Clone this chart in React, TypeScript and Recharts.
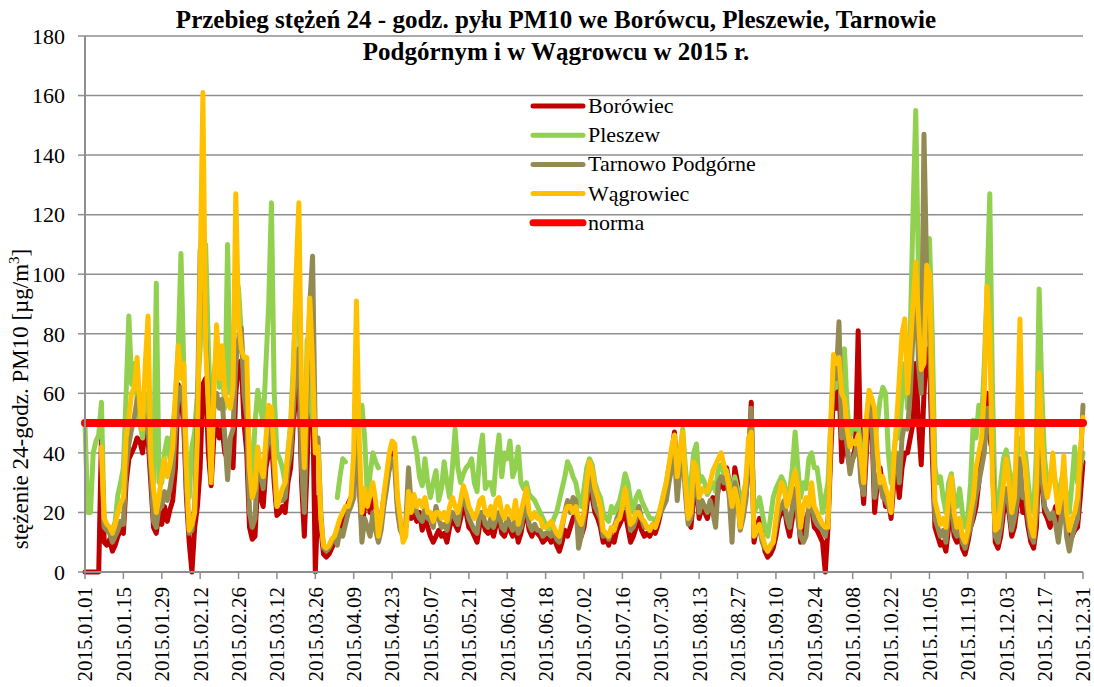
import { LineChart, Line, XAxis, YAxis, CartesianGrid } from "recharts";

const FONT = '"Liberation Serif", "Times New Roman", Times, serif';
const GRID = "#8E8E8E";

// daily 24h PM10 concentrations, 2015.01.01 - 2015.12.31
const borowiec: (number | null)[] = [
  0, 0, 0, 0, 0, 0, 45, 10, 9, 11, 7, 9, 12, 14,
  13, 30, 38, 40, 42, 45, 44, 40, 48, 45, 30, 15, 13, 20,
  16, 22, 17, 21, 24, 35, 63, 58, 50, 25, 10, 0, 15, 22,
  35, 63, 65, 40, 29, 45, 49, 45, 48, 40, 38, 45, 35, 60,
  70, 71, 50, 40, 15, 11, 12, 30, 25, 22, 35, 40, 45, 30,
  19, 20, 22, 20, 30, 35, 50, 60, 65, 30, 12, 35, 70, 60,
  0, 25, 15, 6, 5, 6, 8, 10, 12, 15, 18, 20, 23, 25,
  25, 60, 30, 15, 22, 25, 20, 26, 22, 15, 18, 25, 30, 35,
  40, 38, 22, 15, 12, 15, 22, 18, 20, 17, 20, 14, 18, 15,
  12, 10, 12, 14, 12, 13, 10, 15, 18, 16, 14, 18, 22, 20,
  15, 14, 12, 10, 16, 18, 14, 13, 15, 12, 16, 18, 13, 12,
  15, 14, 12, 16, 10, 13, 18, 20, 14, 12, 15, 13, 12, 10,
  11, 12, 10, 12, 9, 7, 10, 14, 12, 15, 18, 20, 15, 12,
  15, 22, 30, 25, 20, 18, 15, 10, 11, 9, 12, 10, 14, 16,
  18, 20, 15, 10, 12, 15, 18, 14, 12, 13, 12, 14, 13, 16,
  20, 25, 28, 35, 40, 47, 30, 38, 45, 30, 18, 15, 25, 30,
  18, 22, 20, 18, 22, 25, 22, 28, 30, 28, 35, 30, 20, 35,
  30, 15, 20, 25, 35, 57, 10, 15, 18, 12, 7, 5, 6, 8,
  12, 18, 20, 22, 16, 12, 18, 25, 20, 10, 14, 18, 20, 22,
  15, 14, 12, 10, 0, 15, 40, 60, 55, 65, 37, 45, 40, 35,
  38, 42, 81, 35, 23, 40, 55, 50, 20, 30, 35, 28, 22, 25,
  18, 30, 35, 25, 35, 40, 40, 45, 50, 70, 50, 36, 60, 75,
  72, 40, 15, 12, 9, 10, 7, 15, 20, 12, 10, 15, 8, 6,
  10, 15, 18, 22, 30, 40, 45, 60, 45, 40, 10, 8, 12, 20,
  25, 20, 12, 15, 22, 35, 20, 22, 15, 10, 8, 15, 40, 30,
  20, 18, 15, 18, 22, 16, 20, 25, 15, 10, 12, 14, 15, 25, 37,
];

const pleszew: (number | null)[] = [
  50, 20, 20, 40, 44, 46, 57, 16, 15, 14, 14, 17, 26, 30,
  35, 60, 86, 63, 70, 58, 50, 45, 55, 60, 40, 30, 97, 30,
  30, 40, 45, 38, 48, 58, 75, 107, 70, 35, 25, 42, 47, 60,
  75, 100, 110, 75, 50, 65, 75, 62, 70, 55, 110, 60, 70, 100,
  95, 80, 65, 58, 40, 30, 50, 61, 55, 50, 70, 90, 124, 60,
  40, 38, 35, 30, 40, 50, 70, 95, 90, 50, 25, 78, 60, 50,
  null, null, null, null, null, null, null, null, 25, 32, 38, 37, null, null,
  null, null, null, 56, 45, 25, 33, 40, 37, 35, null, null, null, null,
  null, null, null, null, null, null, null, null, 45, 40, 32, 29, 38, 30,
  25, 30, 34, 24, 28, 37, 30, 25, 35, 48, 35, 30, 33, 35,
  36, 38, 30, 27, 40, 46, 28, 30, 30, 26, 38, 46, 32, 40,
  38, 44, 32, 35, 42, 30, 28, 30, 26, 25, 24, 22, 20, 18,
  16, 14, 15, 18, 20, 24, 28, 32, 37, 35, 32, 30, 25, 22,
  28, 35, 38, 36, 30, 27, 25, 20, 18, 17, 22, 20, 22, 24,
  28, 33, 30, 24, 20, 25, 27, 24, 22, 20, 18, 18, 17, 19,
  22, 26, 30, 35, 40, 42, 32, 40, 48, 35, 25, 30, 40, 43,
  30, 32, 30, 26, 28, 30, 27, 35, 36, 33, 34, 30, 25, 32,
  28, 20, 26, 30, 40, 50, 20, 22, 25, 20, 15, 12, 18, 25,
  28, 30, 32, 30, 25, 27, 35, 47, 35, 25, 30, 28, 38, 40,
  35, 35, 28, 20, 25, 30, 50, 65, 62, 70, 55, 75, 55, 45,
  50, 48, 50, 40, 38, 50, 60, 58, 45, 50, 58, 62, 60, 40,
  30, 40, 48, 45, 60, 70, 55, 80, 120, 155, 100, 70, 90, 100,
  112, 80, 35, 30, 32, 25, 20, 30, 33, 25, 22, 28, 20, 15,
  18, 30, 51, 45, 56, 50, 70, 95, 127, 60, 20, 22, 30, 38,
  41, 35, 28, 32, 38, 45, 40, 40, 30, 22, 20, 40, 95, 60,
  38, 30, 32, 35, 30, 25, 30, 35, 25, 20, 30, 42, 30, 35, 40,
];

const tarnowo: (number | null)[] = [
  null, null, null, null, null, null, 40, 15, 14, 13, 10, 12, 14, 17,
  16, 35, 43, 48, 52, 58, 60, 55, 50, 48, 35, 17, 15, 22,
  22, 27, 24, 28, 34, 48, 60, 62, 55, 28, 13, 14, 22, 55,
  108, 113, 80, 60, 38, 55, 60, 55, 58, 45, 31, 45, 48, 70,
  78, 82, 60, 52, 20, 15, 18, 38, 33, 28, 40, 45, 50, 35,
  22, 25, 24, 25, 35, 40, 55, 70, 75, 35, 20, 60, 90, 106,
  45, 45, 20, 8, 7, 8, 10, 12, 9, 14, 12, 16, 20, 22,
  25, 70, 30, 10, 18, 15, 12, 20, 14, 10, 14, 22, 28, 35,
  38, 35, 20, 14, 12, 16, 35, 22, 24, 20, 18, 17, 22, 18,
  18, 15, 22, 18, 15, 16, 14, 18, 20, 18, 16, 22, 25, 22,
  18, 16, 14, 13, 20, 20, 16, 15, 18, 15, 18, 20, 15, 14,
  18, 16, 14, 18, 13, 15, 20, 22, 16, 14, 16, 14, 14, 12,
  13, 13, 12, 14, 11, 10, 15, 20, 24, 20, 25, 24, 8, 12,
  18, 25, 32, 28, 22, 20, 18, 12, 13, 11, 14, 15, 18, 20,
  22, 24, 20, 14, 15, 18, 22, 18, 15, 15, 14, 16, 15, 18,
  20, 22, 24, 30, 35, 40, 24, 35, 40, 26, 16, 18, 28, 32,
  20, 24, 22, 20, 24, 20, 15, 30, 32, 30, 32, 25, 10, 30,
  25, 14, 18, 24, 38, 55, 12, 13, 15, 10, 8, 7, 8, 10,
  15, 20, 22, 24, 18, 15, 22, 28, 18, 12, 10, 12, 22, 24,
  18, 16, 15, 14, 12, 18, 45, 70, 65, 84, 45, 50, 42, 33,
  38, 40, 45, 30, 26, 45, 58, 52, 25, 32, 30, 25, 24, 22,
  20, 35, 40, 30, 45, 50, 48, 60, 80, 103, 70, 60, 147, 100,
  80, 50, 18, 15, 12, 14, 10, 20, 25, 14, 12, 16, 10, 8,
  12, 15, 20, 26, 30, 35, 40, 55, 50, 38, 12, 10, 15, 24,
  28, 22, 14, 18, 24, 38, 25, 26, 18, 12, 10, 20, 45, 32,
  22, 20, 18, 20, 16, 10, 18, 28, 12, 7, 12, 15, 18, 35, 56,
];

const wagrowiec: (number | null)[] = [
  null, null, null, null, null, null, 42, 18, 16, 15, 13, 16, 20, 23,
  25, 45, 52, 60, 62, 72, 55, 48, 70, 86, 38, 28, 20, 25,
  33, 38, 32, 36, 42, 60, 76, 65, 70, 35, 14, 16, 20, 45,
  100, 161, 76, 55, 30, 60, 83, 65, 76, 60, 57, 55, 62, 127,
  85, 75, 72, 72, 35, 25, 28, 42, 35, 32, 45, 56, 55, 40,
  22, 25, 28, 30, 40, 48, 65, 100, 124, 60, 35, 70, 92, 70,
  40, 42, 18, 9, 8, 9, 11, 12, 15, 18, 20, 22, 22, 25,
  40, 91, 45, 20, 28, 22, 26, 30, 24, 12, 18, 26, 33, 40,
  44, 43, 25, 18, 10, 12, 27, 20, 26, 22, 24, 22, 25, 20,
  20, 17, 20, 20, 18, 20, 17, 22, 25, 22, 20, 24, 29, 26,
  22, 20, 18, 20, 24, 25, 20, 19, 22, 18, 24, 25, 20, 18,
  22, 20, 18, 24, 16, 20, 24, 28, 20, 18, 20, 18, 18, 15,
  15, 16, 17, 15, 13, 12, 16, 20, 22, 22, 20, 22, 18, 16,
  20, 30, 37, 34, 28, 25, 22, 14, 13, 12, 15, 14, 17, 18,
  22, 28, 22, 16, 17, 20, 20, 18, 17, 15, 14, 16, 15, 18,
  22, 26, 30, 36, 42, 46, 32, 40, 47, 30, 18, 20, 37, 35,
  25, 28, 27, 27, 30, 34, 36, 38, 40, 36, 33, 28, 22, 28,
  24, 15, 22, 30, 45, 47, 12, 14, 16, 12, 9, 7, 9, 10,
  18, 25, 30, 28, 22, 25, 30, 34, 28, 15, 22, 25, 22, 30,
  22, 20, 18, 16, 15, 15, 50, 73, 70, 72, 60, 58, 48, 42,
  44, 43, 46, 38, 30, 52, 61, 58, 55, 40, 30, 32, 28, 25,
  20, 38, 50, 65, 80, 85, 60, 75, 90, 104, 85, 68, 70, 103,
  100, 60, 24, 20, 16, 18, 15, 25, 32, 20, 15, 18, 12, 10,
  14, 20, 25, 35, 40, 45, 60, 96, 80, 30, 14, 15, 22, 30,
  38, 30, 20, 25, 50, 85, 40, 35, 22, 15, 12, 28, 67, 45,
  30, 25, 30, 40, 28, 20, 25, 39, 20, 14, 18, 20, 25, 40, 52,
];

const NORMA = 50;
const yTicks = [0, 20, 40, 60, 80, 100, 120, 140, 160, 180];

const series = [
  { key: "borowiec", name: "Borówiec", color: "#C00000", width: 5 },
  { key: "pleszew", name: "Pleszew", color: "#92D050", width: 5 },
  { key: "tarnowo", name: "Tarnowo Podgórne", color: "#948A54", width: 5 },
  { key: "wagrowiec", name: "Wągrowiec", color: "#FFC000", width: 5 },
  { key: "norma", name: "norma", color: "#FF0000", width: 8 },
];

const dates: string[] = [];
for (let i = 0; i < 365; i++) {
  const d = new Date(Date.UTC(2015, 0, 1 + i));
  const mm = String(d.getUTCMonth() + 1).padStart(2, "0");
  const dd = String(d.getUTCDate()).padStart(2, "0");
  dates.push(`2015.${mm}.${dd}`);
}

const table = dates.map((date, i) => ({
  date,
  borowiec: borowiec[i] ?? null,
  pleszew: pleszew[i] ?? null,
  tarnowo: tarnowo[i] ?? null,
  wagrowiec: wagrowiec[i] ?? null,
  norma: NORMA,
}));

const DateTick = (props: any) => {
  const { x, y, payload } = props;
  return (
    <g transform={`translate(${x},${y + 6})`}>
      <text
        transform="rotate(-90)"
        textAnchor="end"
        dy="0.35em"
        fontSize={21}
        fontFamily={FONT}
        fill="#000"
      >
        {payload.value}
      </text>
    </g>
  );
};

export default function App() {
  return (
    <div
      style={{
        position: "absolute",
        left: 0,
        top: 0,
        width: 1094,
        height: 687,
        background: "#fff",
        fontFamily: FONT,
      }}
    >
      <LineChart
        width={1094}
        height={687}
        data={table}
        margin={{ top: 36, right: 11, bottom: 0, left: 0 }}
      >
        <CartesianGrid vertical={false} stroke={GRID} strokeWidth={1.5} />
        <XAxis
          dataKey="date"
          scale="point"
          interval={13}
          height={115}
          tick={<DateTick />}
          tickSize={7}
          tickLine={{ stroke: GRID, strokeWidth: 1.5 }}
          axisLine={{ stroke: GRID, strokeWidth: 2 }}
        />
        <YAxis
          domain={[0, 180]}
          ticks={yTicks}
          width={85}
          tickSize={7}
          tickMargin={13}
          tick={{ fontSize: 22, fill: "#000", fontFamily: FONT }}
          tickLine={{ stroke: GRID, strokeWidth: 1.5 }}
          axisLine={{ stroke: GRID, strokeWidth: 2 }}
        />
        {series.map((s) => (
          <Line
            key={s.key}
            type="linear"
            dataKey={s.key}
            name={s.name}
            stroke={s.color}
            strokeWidth={s.width}
            strokeLinejoin="round"
            strokeLinecap="round"
            dot={false}
            activeDot={false}
            isAnimationActive={false}
          />
        ))}
      </LineChart>

      <svg
        width={1094}
        height={687}
        style={{ position: "absolute", left: 0, top: 0, pointerEvents: "none" }}
      >
        <g fontFamily={FONT} fontWeight="bold" fontSize={25} textAnchor="middle">
          <text x={556} y={28}>
            Przebieg stężeń 24 - godz. pyłu PM10 we Borówcu, Pleszewie, Tarnowie
          </text>
          <text x={556} y={60}>
            Podgórnym i w Wągrowcu w 2015 r.
          </text>
        </g>

        <text
          transform="translate(28,399) rotate(-90)"
          textAnchor="middle"
          fontFamily={FONT}
          fontSize={23}
        >
          stężenie 24-godz. PM10 [µg/m
          <tspan dy={-9} fontSize={15}>
            3
          </tspan>
          <tspan dy={9}>]</tspan>
        </text>

        {series.map((s, i) => {
          const cy = 106 + i * 29.2;
          return (
            <g key={s.key}>
              <line
                x1={533}
                x2={583}
                y1={cy}
                y2={cy}
                stroke={s.color}
                strokeWidth={s.key === "norma" ? 7 : 5}
                strokeLinecap="round"
              />
              <text x={588} y={cy + 7} fontFamily={FONT} fontSize={22}>
                {s.name}
              </text>
            </g>
          );
        })}
      </svg>
    </div>
  );
}
